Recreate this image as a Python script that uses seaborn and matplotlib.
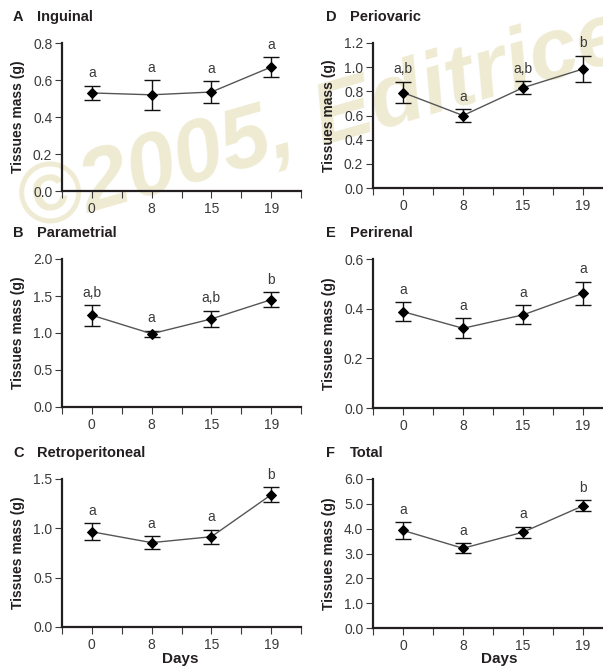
import numpy as np
import pandas as pd
import matplotlib
matplotlib.use("Agg")
import matplotlib.pyplot as plt
import seaborn as sns

# data (mean +/- sem, letters = significance groups)
days = ["0", "8", "15", "19"]

inguinal_mean = [0.53, 0.52, 0.535, 0.67]
inguinal_sem = [0.04, 0.08, 0.06, 0.055]
inguinal_sig = ["a", "a", "a", "a"]

parametrial_mean = [1.24, 0.99, 1.19, 1.45]
parametrial_sem = [0.14, 0.04, 0.11, 0.105]
parametrial_sig = ["a,b", "a", "a,b", "b"]

retro_mean = [0.965, 0.855, 0.915, 1.34]
retro_sem = [0.085, 0.065, 0.073, 0.077]
retro_sig = ["a", "a", "a", "b"]

periovaric_mean = [0.79, 0.60, 0.83, 0.985]
periovaric_sem = [0.09, 0.05, 0.055, 0.11]
periovaric_sig = ["a,b", "a", "a,b", "b"]

perirenal_mean = [0.388, 0.321, 0.375, 0.462]
perirenal_sem = [0.037, 0.04, 0.038, 0.047]
perirenal_sig = ["a", "a", "a", "a"]

total_mean = [3.93, 3.21, 3.86, 4.92]
total_sem = [0.33, 0.20, 0.22, 0.22]
total_sig = ["a", "a", "a", "b"]

sns.set_style("ticks")
plt.rcParams['font.family'] = ['Liberation Sans', 'DejaVu Sans']

W, H = 603, 668
fig = plt.figure(figsize=(W / 100, H / 100), dpi=100)

# watermark behind everything (runs off the top-right edge like the original)
fig.text(322 / W, 1 - 122 / H, "\u00a92005, Editrice", fontsize=63, fontweight="bold",
         fontstyle="italic", color="#efebd3", rotation=16, ha="center", va="center",
         zorder=-5)

ink = "#231f20"
grey = "#3a3a3a"

panels = [
    # letter, name, mean, sem, sig, yticks, (left, right, top, bottom), title y, days label x
    ("A", "Inguinal", inguinal_mean, inguinal_sem, inguinal_sig,
     [0, 0.2, 0.4, 0.6, 0.8], (62, 301, 43, 191), 17, None),
    ("B", "Parametrial", parametrial_mean, parametrial_sem, parametrial_sig,
     [0, 0.5, 1.0, 1.5, 2.0], (62, 301, 259, 407), 233, None),
    ("C", "Retroperitoneal", retro_mean, retro_sem, retro_sig,
     [0, 0.5, 1.0, 1.5], (62, 301, 479, 627), 453, 180),
    ("D", "Periovaric", periovaric_mean, periovaric_sem, periovaric_sig,
     [0, 0.2, 0.4, 0.6, 0.8, 1.0, 1.2], (373, 613, 43, 188), 17, None),
    ("E", "Perirenal", perirenal_mean, perirenal_sem, perirenal_sig,
     [0, 0.2, 0.4, 0.6], (373, 613, 259, 408), 233, None),
    ("F", "Total", total_mean, total_sem, total_sig,
     [0, 1, 2, 3, 4, 5, 6], (373, 613, 479, 628), 453, 499),
]

for letter, name, mean, sem, sig, yt, (l, r, t, b), ty, dx in panels:
    ax = fig.add_axes([l / W, 1 - b / H, (r - l) / W, (b - t) / H])
    ax.set_facecolor("none")
    df = pd.DataFrame({"pos": np.arange(len(days)), "mass": mean, "sem": sem})

    ax.errorbar(df["pos"], df["mass"], yerr=df["sem"], fmt="none", ecolor="#111111",
                elinewidth=1.0, capsize=6, capthick=1.0, zorder=3, clip_on=False)
    sns.lineplot(data=df, x="pos", y="mass", ax=ax, color="#555555", lw=1.0,
                 marker="D", markersize=5.5, markerfacecolor="black",
                 markeredgecolor="black", zorder=4, clip_on=False)

    for x, m, s, lab in zip(df["pos"], mean, sem, sig):
        ax.annotate(lab, (x, m + s), xytext=(0, 6), textcoords="offset points",
                    ha="center", va="baseline", fontsize=10, color=grey,
                    annotation_clip=False)

    ax.set_xlim(-0.5, 3.5)
    ax.set_ylim(0, yt[-1])
    ax.set_xticks(range(len(days)))
    ax.set_xticklabels(days)
    ax.set_xticks(np.arange(-0.5, 3.6, 1.0), minor=True)
    ax.set_yticks(yt)
    ax.set_yticklabels(["{:.1f}".format(v) for v in yt])

    sns.despine(ax=ax)
    for side in ("left", "bottom"):
        ax.spines[side].set_linewidth(1.6)
        ax.spines[side].set_color(ink)
    ax.tick_params(axis="both", which="both", direction="out", length=5, width=0.8,
                   color=grey, labelsize=10, labelcolor=grey, pad=2)
    ax.tick_params(axis="x", which="major", pad=3)

    ax.set_xlabel("")
    ax.set_ylabel("Tissues mass (g)", fontsize=10, fontweight="bold", color=ink)
    ax.yaxis.set_label_coords(-0.155, 0.5)

    tx = 13 if l < 300 else 326
    fig.text(tx / W, 1 - ty / H, letter, fontsize=10.5, fontweight="bold",
             color=ink, ha="left", va="center")
    fig.text((tx + 24) / W, 1 - ty / H, name, fontsize=10.5, fontweight="bold",
             color=ink, ha="left", va="center")

    if dx is not None:
        fig.text(dx / W, 1 - 659 / H, "Days", fontsize=11, fontweight="bold",
                 color=ink, ha="center", va="center")

fig.savefig("out.png", dpi=100)
